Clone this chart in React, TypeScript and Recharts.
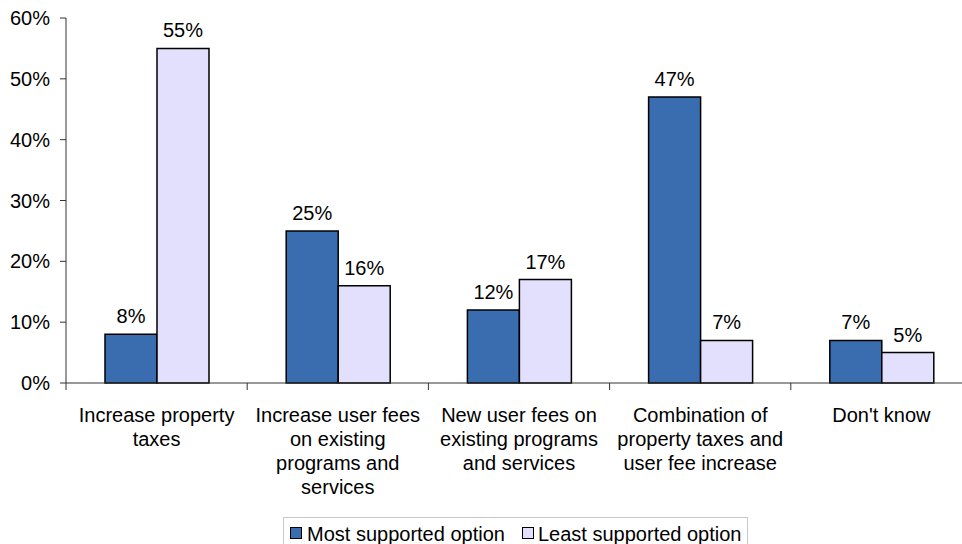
import React from "react";
import { BarChart, Bar, XAxis, YAxis, LabelList } from "recharts";

const categories = [
  "Increase property taxes",
  "Increase user fees on existing programs and services",
  "New user fees on existing programs and services",
  "Combination of property taxes and user fee increase",
  "Don't know",
];
const categoryLines = [
  ["Increase property", "taxes"],
  ["Increase user fees", "on existing", "programs and", "services"],
  ["New user fees on", "existing programs", "and services"],
  ["Combination of", "property taxes and", "user fee increase"],
  ["Don't know"],
];
const mostSupported = [8, 25, 12, 47, 7];
const leastSupported = [55, 16, 17, 7, 5];
const yTicks = [0, 10, 20, 30, 40, 50, 60];
const seriesNames = ["Most supported option", "Least supported option"];

const BLUE = "#3A6CB0";
const LAV = "#E2E0FC";
const FONT = "'Liberation Sans', Arial, sans-serif";

const data = categories.map((c, i) => ({
  name: c,
  most: mostSupported[i],
  least: leastSupported[i],
}));

const CHART_W = 980;
const CHART_H = 544;
const PLOT_LEFT = 66;
const PLOT_RIGHT = 972;
const BAND = (PLOT_RIGHT - PLOT_LEFT) / categories.length;

function CatTick(props: any) {
  const { x, y, payload, index } = props;
  const idx = typeof payload?.index === "number" ? payload.index : index;
  const lines = categoryLines[idx] || [String(payload?.value ?? "")];
  return (
    <g>
      <line x1={x - BAND / 2} x2={x - BAND / 2} y1={y} y2={y + 7} stroke="#333" strokeWidth={1} />
      {idx === categories.length - 1 && (
        <line x1={x + BAND / 2} x2={x + BAND / 2} y1={y} y2={y + 7} stroke="#333" strokeWidth={1} />
      )}
      {lines.map((l: string, i: number) => (
        <text
          key={i}
          x={x}
          y={y + 39 + i * 24}
          textAnchor="middle"
          fontSize={20}
          fontFamily={FONT}
          fill="#000"
        >
          {l}
        </text>
      ))}
    </g>
  );
}

export default function App() {
  return (
    <div
      style={{
        position: "absolute",
        left: 0,
        top: 0,
        width: 962,
        height: 544,
        overflow: "hidden",
        background: "#fff",
        fontFamily: FONT,
      }}
    >
      <BarChart
        width={CHART_W}
        height={CHART_H}
        data={data}
        margin={{ top: 18, right: CHART_W - PLOT_RIGHT, bottom: 0, left: 0 }}
        barGap={0}
        barSize={52}
      >
        <XAxis
          dataKey="name"
          height={161}
          tickSize={0}
          tickMargin={0}
          tickLine={false}
          axisLine={{ stroke: "#333", strokeWidth: 1 }}
          tick={<CatTick />}
          interval={0}
        />
        <YAxis
          width={66}
          domain={[0, 60]}
          ticks={yTicks}
          tickFormatter={(v: number) => `${v}%`}
          tickSize={6}
          tickMargin={10}
          axisLine={{ stroke: "#333", strokeWidth: 1 }}
          tickLine={{ stroke: "#333", strokeWidth: 1 }}
          tick={{ fontSize: 20, fill: "#000", fontFamily: FONT }}
        />
        <Bar dataKey="most" name={seriesNames[0]} fill={BLUE} stroke="#000" strokeWidth={1.5} isAnimationActive={false}>
          <LabelList
            dataKey="most"
            position="top"
            offset={11}
            formatter={(v: any) => `${v}%`}
            style={{ fontSize: 20, fill: "#000", fontFamily: FONT }}
          />
        </Bar>
        <Bar dataKey="least" name={seriesNames[1]} fill={LAV} stroke="#000" strokeWidth={1.5} isAnimationActive={false}>
          <LabelList
            dataKey="least"
            position="top"
            offset={11}
            formatter={(v: any) => `${v}%`}
            style={{ fontSize: 20, fill: "#000", fontFamily: FONT }}
          />
        </Bar>
      </BarChart>
      <div
        style={{
          position: "absolute",
          left: 283,
          top: 517,
          width: 465,
          height: 40,
          border: "1px solid #c8c8c8",
          boxSizing: "border-box",
          fontSize: 20,
          lineHeight: "20px",
          color: "#000",
          whiteSpace: "nowrap",
        }}
      >
        <div style={{ position: "absolute", left: 6, top: 9, width: 12, height: 12, background: BLUE, border: "1px solid #000", boxSizing: "border-box" }} />
        <div style={{ position: "absolute", left: 23, top: 6 }}>{seriesNames[0]}</div>
        <div style={{ position: "absolute", left: 238, top: 9, width: 12, height: 12, background: LAV, border: "1px solid #000", boxSizing: "border-box" }} />
        <div style={{ position: "absolute", left: 254, top: 6 }}>{seriesNames[1]}</div>
      </div>
    </div>
  );
}
